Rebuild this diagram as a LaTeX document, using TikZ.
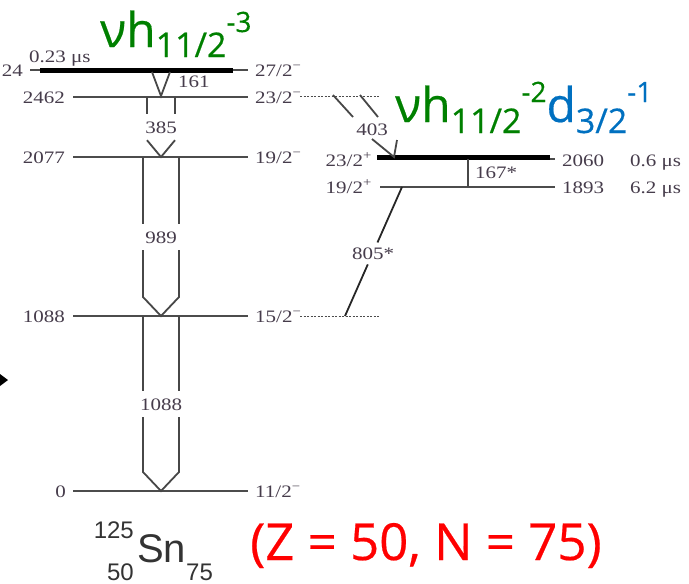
\documentclass[tikz,border=0pt]{standalone}
\usepackage{fontspec}
\usetikzlibrary{calc}
\newfontfamily\lvlfont[FakeStretch=1.2]{Liberation Serif}
\newfontfamily\notefont[FakeBold=0.4]{Open Sans}
\newfontfamily\nucfont{Liberation Sans}
\definecolor{lvltext}{RGB}{70,60,75}
\definecolor{cfgreen}{RGB}{0,128,0}
\definecolor{cfblue}{RGB}{0,112,192}
\definecolor{nucgray}{RGB}{51,51,51}

\begin{document}
\begin{tikzpicture}[x=1pt,y=-1pt,
  level/.style={draw=black!70, line width=1.9pt},
  isomer/.style={draw=black, line width=5pt},
  gam/.style={draw=black!72, line width=1.8pt},
  link/.style={draw=black!70, line width=1pt, dash pattern=on 2pt off 1.5pt},
  lvl/.style={font=\lvlfont\fontsize{17.5}{18}\selectfont, text=lvltext, inner sep=0pt, text height=12pt, text depth=0pt},
  glab/.style={lvl, inner ysep=7pt}]
\useasboundingbox (0,0) rectangle (689,584);

% levels of the left band
\draw[level] (73,491) -- (248,491);
\draw[level] (73,316) -- (248,316);
\draw[level] (73,157) -- (248,157);
\draw[level] (73,97) -- (248,97);
\draw[level] (30,70) -- (248,70);
\draw[isomer] (40,70) -- (233,70);

% levels of the right band
\draw[level] (380,159) -- (555,159);
\draw[level] (380,187) -- (555,187);
\draw[isomer] (377,157) -- (550,157);
\draw[link] (300,96) -- (380,96);
\draw[link] (300,316) -- (380,316);

% energies and spins
\node[lvl,anchor=east] (e2624) at (23,70) {24};
\node[lvl,anchor=east] (e2462) at (65,97) {2462};
\node[lvl,anchor=east] (e2077) at (65,157) {2077};
\node[lvl,anchor=east] (e1088) at (65,316) {1088};
\node[lvl,anchor=east] (e0) at (66,491) {0};
\node[lvl,anchor=west] (t023) at (29,56) {0.23 μs};
\node[lvl,anchor=west] (j27) at (255,70) {27/2\textsuperscript{−}};
\node[lvl,anchor=west] (j23) at (255,97) {23/2\textsuperscript{−}};
\node[lvl,anchor=west] (j19) at (255,157) {19/2\textsuperscript{−}};
\node[lvl,anchor=west] (j15) at (255,316) {15/2\textsuperscript{−}};
\node[lvl,anchor=west] (j11) at (255,491) {11/2\textsuperscript{−}};
\node[lvl,anchor=east] (j23p) at (372,160) {23/2\textsuperscript{+}};
\node[lvl,anchor=east] (j19p) at (372,187) {19/2\textsuperscript{+}};
\node[lvl,anchor=west] (e2060) at (562,160) {2060};
\node[lvl,anchor=west] (e1893) at (562,187) {1893};
\node[lvl,anchor=west] (t06) at (630,160) {0.6 μs};
\node[lvl,anchor=west] (t62) at (630,187) {6.2 μs};

% transitions
\coordinate (tip161) at (161,96);
\coordinate (tip385) at (161,157);
\coordinate (tip989) at (161,316);
\coordinate (tip1088) at (161,491);
\coordinate (tip403) at (394,157);
\draw[gam] (152,72) -- (tip161) -- (170,72);
\node[lvl,anchor=west] (g161) at (178,81) {161};

\node[glab] (g385) at (161,127) {385};
\draw[gam] (147,97) -- (147,0 |- g385.north) (175,97) -- (175,0 |- g385.north);
\draw[gam] (147,0 |- g385.south) -- (tip385) -- (175,0 |- g385.south);

\node[glab] (g989) at (161,237) {989};
\draw[gam] (143,157) -- (143,0 |- g989.north) (179,157) -- (179,0 |- g989.north);
\draw[gam] (143,0 |- g989.south) -- (143,297) -- (tip989) -- (179,297) -- (179,0 |- g989.south);

\node[glab] (g1088) at (161,404) {1088};
\draw[gam] (143,316) -- (143,0 |- g1088.north) (179,316) -- (179,0 |- g1088.north);
\draw[gam] (143,0 |- g1088.south) -- (143,472) -- (tip1088) -- (179,472) -- (179,0 |- g1088.south);

\node[lvl] (g403) at (372,129) {403};
\draw[gam] (333,95) -- (353,117) (360,95) -- (378,117);
\draw[gam] (372,139) -- (tip403) -- (397,140);

\draw[gam] (468,159) -- (468,187);
\node[lvl,anchor=west] (g167) at (475,172) {167*};

\coordinate (b805) at (402,187);
\coordinate (e805) at (345,316);
\node[lvl] (g805) at (373,253) {805*};
\draw[gam,draw=black!85] (b805) -- ($(b805)!0.43!(e805)$) ($(b805)!0.6!(e805)$) -- (e805);

% configurations
\node[anchor=base west,inner sep=0pt,text=cfgreen,font=\notefont] (cfg3) at (100,47)
  {\fontsize{48}{48}\selectfont νh\raisebox{-10pt}{\fontsize{34}{34}\selectfont 11/2}\raisebox{15pt}{\fontsize{28}{28}\selectfont -3}};
\node[anchor=base west,inner sep=0pt,font=\notefont] (cfg21) at (395,122)
  {\fontsize{48}{48}\selectfont\color{cfgreen}νh\raisebox{-11pt}{\fontsize{34}{34}\selectfont 11/2}\raisebox{20pt}{\fontsize{28}{28}\selectfont -2}%
   \color{cfblue}d\raisebox{-11pt}{\fontsize{34}{34}\selectfont 3/2}\raisebox{20pt}{\fontsize{28}{28}\selectfont -1}};

% nucleus
\node[anchor=base west,inner sep=0pt,text=nucgray,font=\nucfont\fontsize{40}{40}\selectfont] (sn) at (137,562) {Sn};
\node[anchor=base east,inner sep=0pt,text=nucgray,font=\nucfont\fontsize{24}{24}\selectfont] (massA) at (134,538) {125};
\node[anchor=base east,inner sep=0pt,text=nucgray,font=\nucfont\fontsize{24}{24}\selectfont] (protZ) at (134,580) {50};
\node[anchor=base west,inner sep=0pt,text=nucgray,font=\nucfont\fontsize{24}{24}\selectfont] (neutN) at (186,580) {75};
\node[anchor=base west,inner sep=0pt,text=red,font=\notefont\fontsize{51}{51}\selectfont] (zn) at (250,560) {(Z = 50, N = 75)};

% cut arrow tip at the edge
\fill (0,374) -- (8,380) -- (0,386) -- cycle;
\end{tikzpicture}
\end{document}
